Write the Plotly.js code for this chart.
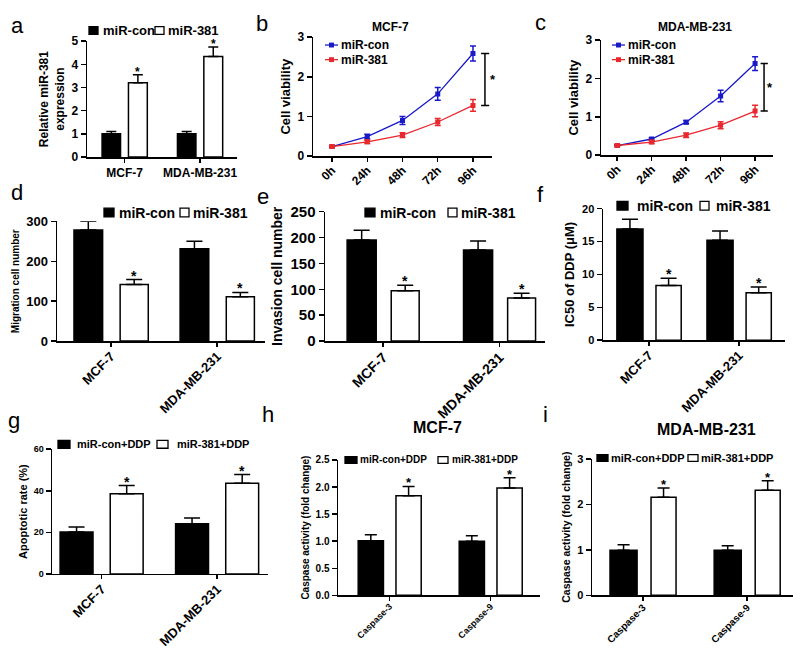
<!DOCTYPE html>
<html>
<head>
<meta charset="utf-8">
<script src="https://cdn.plot.ly/plotly-3.0.1.min.js"></script>
<style>html,body{margin:0;padding:0;background:#fff}#chart{width:800px;height:653px}</style>
</head>
<body>
<div id="chart"></div>
<script>
// ---------------- DATA ----------------
const cellLines = ['MCF-7', 'MDA-MB-231'];
const timePoints = ['0h', '24h', '48h', '72h', '96h'];
const caspases = ['Caspase-3', 'Caspase-9'];
const seriesNames = ['miR-con', 'miR-381'];
const ddpNames = ['miR-con+DDP', 'miR-381+DDP'];

// a: relative miR-381 expression
const aCon = [1.00, 1.00], aConErr = [0.10, 0.10];
const a381 = [3.21, 4.34], a381Err = [0.34, 0.41];
// b: MCF-7 cell viability
const bCon = [0.24, 0.49, 0.90, 1.57, 2.59], bConErr = [0.02, 0.06, 0.10, 0.16, 0.19];
const b381 = [0.24, 0.36, 0.53, 0.86, 1.28], b381Err = [0.02, 0.04, 0.06, 0.09, 0.15];
// c: MDA-MB-231 cell viability
const cCon = [0.25, 0.42, 0.86, 1.54, 2.39], cConErr = [0.02, 0.03, 0.04, 0.15, 0.18];
const c381 = [0.25, 0.34, 0.52, 0.78, 1.15], c381Err = [0.02, 0.04, 0.06, 0.09, 0.15];
// d: migration
const dCon = [278, 231], dConErr = [22, 19];
const d381 = [142, 111], d381Err = [12, 11];
// e: invasion
const eCon = [195, 176], eConErr = [19, 17];
const e381 = [97, 83], e381Err = [11, 9.5];
// f: IC50 of DDP
const fCon = [16.9, 15.2], fConErr = [1.5, 1.4];
const f381 = [8.3, 7.2], f381Err = [1.1, 0.9];
// g: apoptotic rate
const gCon = [20.2, 24.1], gConErr = [2.4, 2.8];
const g381 = [38.6, 43.6], g381Err = [3.9, 4.2];
// h: caspase activity MCF-7
const hCon = [1.01, 1.00], hConErr = [0.11, 0.10];
const h381 = [1.84, 1.98], h381Err = [0.17, 0.19];
// i: caspase activity MDA-MB-231
const iCon = [0.99, 0.99], iConErr = [0.12, 0.10];
const i381 = [2.16, 2.31], i381Err = [0.20, 0.21];

// ---------------- HELPERS ----------------
const W = 800, H = 653;
const FONT = 'Liberation Sans, Arial, Helvetica, sans-serif';
const fx = p => p / W, fy = p => 1 - p / H;
const sfx = n => (n === 1 ? '' : String(n));
const BLUE = 'rgb(25,25,200)', RED = 'rgb(232,40,45)';

const data = [], annotations = [], shapes = [];
const layout = {
  width: W, height: H,
  margin: {l: 0, r: 0, t: 0, b: 0},
  paper_bgcolor: '#fff', plot_bgcolor: 'rgba(0,0,0,0)',
  font: {family: FONT, color: '#000'},
  barmode: 'overlay', showlegend: false
};

function xAxisCfg(o, s) {
  const c = {
    domain: [fx(o.x[0]), fx(o.x[1])], anchor: 'y' + s, range: o.xr,
    showline: true, linecolor: '#000', linewidth: 1.5,
    ticks: 'outside', ticklen: 4, tickwidth: 1.5, tickcolor: '#000',
    tickangle: o.ang, ticklabelstandoff: o.ang ? -3 : 0,
    tickfont: {family: FONT, size: o.xf, weight: 'bold', color: '#000'},
    showgrid: false, zeroline: false, automargin: false, fixedrange: true
  };
  if (o.cats) { c.type = 'category'; c.categoryorder = 'array'; c.categoryarray = o.cats; }
  else { c.type = 'linear'; c.tickvals = o.tv; c.ticktext = o.tt; }
  return c;
}
function yAxisCfg(o, s) {
  return {
    domain: [fy(o.y[1]), fy(o.y[0])], anchor: 'x' + s, range: o.yr, dtick: o.dt, tick0: 0,
    tickformat: o.tf || '',
    showline: true, linecolor: '#000', linewidth: 1.5,
    ticks: 'outside', ticklen: 5, tickwidth: 1.5, tickcolor: '#000',
    tickfont: {family: FONT, size: o.yf, weight: 'bold', color: '#000'},
    title: {text: o.yt, font: {family: FONT, size: o.ytf, weight: 'bold', color: '#000'}, standoff: o.so || 4},
    showgrid: false, zeroline: false, automargin: true, fixedrange: true
  };
}

function barPanel(o) {
  const s = sfx(o.n);
  const mk = (vals, errs, fill, off, wid, name) => ({
    type: 'bar', x: o.cats, y: vals, name: name, xaxis: 'x' + s, yaxis: 'y' + s,
    offset: o.cats.map(() => off), width: o.cats.map(() => wid),
    marker: {color: fill, line: {color: '#000', width: 1.5}},
    error_y: {type: 'data', symmetric: false, array: errs, arrayminus: errs.map(() => 0),
              color: '#000', thickness: 1.5, width: o.cap},
    showlegend: false
  });
  data.push(mk(o.con, o.conErr, '#000', o.geo[0], o.geo[1], o.names[0]));
  data.push(mk(o.trt, o.trtErr, '#fff', o.geo[2], o.geo[3], o.names[1]));
  o.trt.forEach((v, i) => annotations.push({
    xref: 'x' + s, yref: 'y' + s, x: i + o.geo[2] + o.geo[3] / 2, y: v + o.trtErr[i],
    text: '*', showarrow: false, yanchor: 'bottom', yshift: -6,
    font: {family: FONT, size: o.star, weight: 'bold'}
  }));
  layout['xaxis' + s] = xAxisCfg(o, s);
  layout['yaxis' + s] = yAxisCfg(o, s);
}

function linePanel(o) {
  const s = sfx(o.n);
  const xs = o.tt.map((_, i) => i);
  const mk = (vals, errs, col, name) => ({
    type: 'scatter', mode: 'lines+markers', x: xs, y: vals, name: name,
    xaxis: 'x' + s, yaxis: 'y' + s,
    line: {color: col, width: 1.3}, marker: {symbol: 'square', size: 5, color: col},
    error_y: {type: 'data', array: errs, color: col, thickness: 1.5, width: 3},
    showlegend: false
  });
  data.push(mk(o.con, o.conErr, BLUE, o.names[0]));
  data.push(mk(o.trt, o.trtErr, RED, o.names[1]));
  const last = o.con.length - 1;
  const yTop = o.con[last], yBot = o.trt[last];
  const ln = {color: '#000', width: 1.5};
  shapes.push({type: 'line', xref: 'x' + s, yref: 'y' + s, x0: o.br[0], x1: o.br[0], y0: yBot, y1: yTop, line: ln});
  shapes.push({type: 'line', xref: 'x' + s, yref: 'y' + s, x0: o.br[1], x1: o.br[2], y0: yTop, y1: yTop, line: ln});
  shapes.push({type: 'line', xref: 'x' + s, yref: 'y' + s, x0: o.br[1], x1: o.br[2], y0: yBot, y1: yBot, line: ln});
  annotations.push({xref: 'x' + s, yref: 'y' + s, x: o.br[0], y: (yTop + yBot) / 2, xshift: o.br[3], text: '*',
    showarrow: false, font: {family: FONT, size: 13, weight: 'bold'}});
  layout['xaxis' + s] = xAxisCfg(o, s);
  layout['yaxis' + s] = yAxisCfg(o, s);
}

function boxLegend(y, h, size, items) {
  items.forEach(([x0, x1, fill, tx, text]) => {
    shapes.push({type: 'rect', xref: 'paper', yref: 'paper', x0: fx(x0), x1: fx(x1),
      y0: fy(y + h / 2), y1: fy(y - h / 2), fillcolor: fill, line: {color: '#000', width: 1.3}});
    annotations.push({xref: 'paper', yref: 'paper', x: fx(tx), y: fy(y), xanchor: 'left', yanchor: 'middle',
      text: text, showarrow: false, borderpad: 0, font: {family: FONT, size: size, weight: 'bold'}});
  });
}
function lineLegend(size, items) {
  items.forEach(([x0, x1, col, tx, y, text]) => {
    shapes.push({type: 'line', xref: 'paper', yref: 'paper', x0: fx(x0), x1: fx(x1), y0: fy(y), y1: fy(y),
      line: {color: col, width: 1.3}});
    const xc = (x0 + x1) / 2;
    shapes.push({type: 'rect', xref: 'paper', yref: 'paper', x0: fx(xc - 2.5), x1: fx(xc + 2.5),
      y0: fy(y + 2.5), y1: fy(y - 2.5), fillcolor: col, line: {width: 0}});
    annotations.push({xref: 'paper', yref: 'paper', x: fx(tx), y: fy(y), xanchor: 'left', yanchor: 'middle',
      text: text, showarrow: false, borderpad: 0, font: {family: FONT, size: size, weight: 'bold'}});
  });
}
function label(txt, x, y, size, bold) {
  annotations.push({xref: 'paper', yref: 'paper', x: fx(x), y: fy(y), xanchor: 'center', yanchor: 'middle',
    text: txt, showarrow: false, font: {family: FONT, size: size, weight: bold ? 'bold' : 'normal'}});
}

// ---------------- PANELS ----------------
barPanel({n: 1, cats: cellLines, con: aCon, conErr: aConErr, trt: a381, trtErr: a381Err, names: seriesNames,
  x: [87, 237], y: [33, 152], xr: [-0.5, 1.49], yr: [0, 5], dt: 1, ang: 0, xf: 12, yf: 12,
  yt: 'Relative miR-381<br>expression', ytf: 12, geo: [-0.30, 0.245, 0.05, 0.25], cap: 5, star: 12});
linePanel({n: 2, tt: timePoints, tv: [0, 1, 2, 3, 4], con: bCon, conErr: bConErr, trt: b381, trtErr: b381Err,
  names: seriesNames, x: [313, 492], y: [29, 151], xr: [-0.54, 4.54], yr: [0, 3], dt: 1, ang: -45, xf: 12, yf: 12,
  yt: 'Cell viability', ytf: 13, br: [4.34, 4.23, 4.46, 8]});
linePanel({n: 3, tt: timePoints, tv: [0, 1, 2, 3, 4], con: cCon, conErr: cConErr, trt: c381, trtErr: c381Err,
  names: seriesNames, x: [601, 773], y: [32, 150], xr: [-0.47, 4.52], yr: [0, 3], dt: 1, ang: -45, xf: 12, yf: 12,
  yt: 'Cell viability', ytf: 13, br: [4.26, 4.16, 4.37, 6]});
barPanel({n: 4, cats: cellLines, con: dCon, conErr: dConErr, trt: d381, trtErr: d381Err, names: seriesNames,
  x: [57, 265], y: [218, 341], xr: [-0.51, 1.45], yr: [0, 300], dt: 100, ang: -45, xf: 13, yf: 13,
  yt: 'Migration cell number', ytf: 10, geo: [-0.35, 0.27, 0.085, 0.265], cap: 8, star: 14});
barPanel({n: 5, cats: cellLines, con: eCon, conErr: eConErr, trt: e381, trtErr: e381Err, names: seriesNames,
  x: [325, 545], y: [208, 341], xr: [-0.5, 1.39], yr: [0, 250], dt: 50, ang: -45, xf: 14, yf: 15,
  yt: 'Invasion cell number', ytf: 14, geo: [-0.31, 0.25, 0.069, 0.24], cap: 8, star: 14});
barPanel({n: 6, cats: cellLines, con: fCon, conErr: fConErr, trt: f381, trtErr: f381Err, names: seriesNames,
  x: [603, 785], y: [205, 340], xr: [-0.51, 1.51], yr: [0, 20], dt: 5, ang: -45, xf: 13, yf: 11,
  yt: 'IC50 of DDP (\u03bcM)', ytf: 13, geo: [-0.356, 0.29, 0.078, 0.28], cap: 8, star: 14});
barPanel({n: 7, cats: cellLines, con: gCon, conErr: gConErr, trt: g381, trtErr: g381Err, names: ddpNames,
  x: [52, 268], y: [452, 580], xr: [-0.43, 1.44], yr: [0, 60], dt: 20, ang: -45, xf: 13, yf: 9,
  yt: 'Apoptotic rate (%)', ytf: 11, geo: [-0.36, 0.285, 0.074, 0.285], cap: 8, star: 14});
barPanel({n: 8, cats: caspases, con: hCon, conErr: hConErr, trt: h381, trtErr: h381Err, names: ddpNames,
  x: [338, 540], y: [463, 602], xr: [-0.51, 1.49], yr: [0, 2.5], dt: 0.5, tf: '.1f', ang: -45, xf: 9, yf: 10,
  yt: 'Caspase activity (fold change)', ytf: 10, geo: [-0.31, 0.25, 0.064, 0.25], cap: 6, star: 13});
barPanel({n: 9, cats: caspases, con: iCon, conErr: iConErr, trt: i381, trtErr: i381Err, names: ddpNames,
  x: [592, 793], y: [462, 602], xr: [-0.49, 1.44], yr: [0, 3], dt: 1, ang: -45, xf: 10, yf: 11,
  yt: 'Caspase activity (fold change)', ytf: 10.5, geo: [-0.317, 0.26, 0.077, 0.24], cap: 6, star: 13});

// ---------------- LEGENDS ----------------
boxLegend(22, 8, 13, [[89, 98, '#000', 102, seriesNames[0]], [155, 164, '#fff', 167, seriesNames[1]]]);
boxLegend(209, 9, 14, [[104, 114, '#000', 118, seriesNames[0]], [180, 189, '#fff', 192, seriesNames[1]]]);
boxLegend(209, 9, 14, [[365, 375, '#000', 379, seriesNames[0]], [448, 457, '#fff', 460, seriesNames[1]]]);
boxLegend(202, 9, 14, [[617, 628, '#000', 636, seriesNames[0]], [700, 709, '#fff', 715, seriesNames[1]]]);
boxLegend(447, 8, 11, [[58, 70, '#000', 76, ddpNames[0]], [157, 168, '#fff', 176, ddpNames[1]]]);
boxLegend(463, 7, 10, [[345, 357, '#000', 359, ddpNames[0]], [438, 448, '#fff', 451, ddpNames[1]]]);
boxLegend(461, 7, 11, [[597, 608, '#000', 610, ddpNames[0]], [688, 698, '#fff', 700, ddpNames[1]]]);
lineLegend(12, [[325, 338, BLUE, 340, 37, seriesNames[0]], [325, 338, RED, 340, 52, seriesNames[1]]]);
lineLegend(12, [[612, 625, BLUE, 627, 37, seriesNames[0]], [612, 625, RED, 627, 52, seriesNames[1]]]);

// ---------------- TITLES & PANEL LETTERS ----------------
label('MCF-7', 390, 18, 12, true);
label('MDA-MB-231', 695, 18, 12, true);
label('MCF-7', 437, 430, 16, true);
label('MDA-MB-231', 706, 432, 16, true);
[['a', 17, 17], ['b', 262, 15], ['c', 540, 14], ['d', 17, 188], ['e', 263, 192], ['f', 540, 190],
 ['g', 14, 422], ['h', 268, 416], ['i', 545, 416]].forEach(([t, x, y]) => label(t, x, y, 22, false));

layout.annotations = annotations;
layout.shapes = shapes;
Plotly.newPlot('chart', data, layout, {displayModeBar: false, staticPlot: true});
</script>
</body>
</html>
